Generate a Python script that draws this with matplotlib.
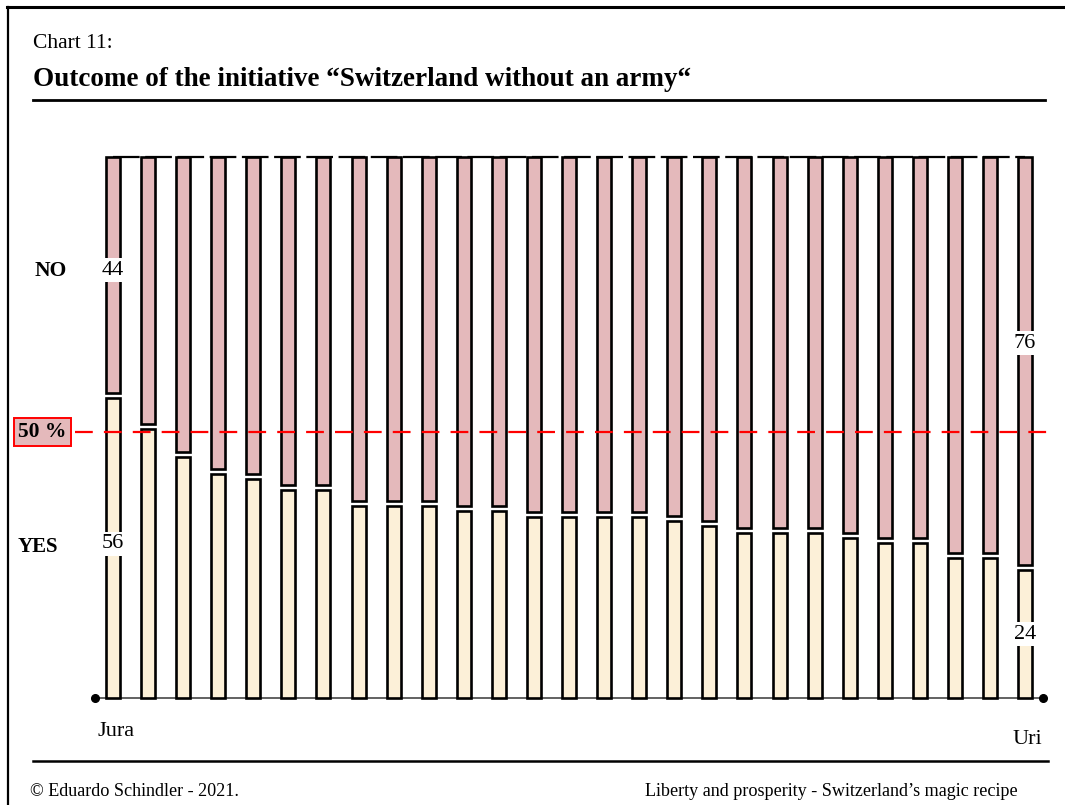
import matplotlib
matplotlib.use("Agg")
import matplotlib.pyplot as plt
import numpy as np

# ---------------- data ----------------
cantons = [str(i) for i in range(1, 28)]
first_label = "Jura"
last_label = "Uri"
yes_pct = [55.9, 50.2, 45.0, 41.9, 40.9, 38.9, 38.9, 35.9, 35.9, 35.9, 35.1, 35.1,
           33.9, 33.9, 33.9, 33.9, 33.1, 32.2, 31.0, 31.0, 31.0, 30.1, 29.2, 29.2,
           26.4, 26.4, 24.2]
no_pct = [100 - v for v in yes_pct]
threshold = 50
threshold_label = "50 %"

plt.rcParams['font.family'] = ['Liberation Serif', 'DejaVu Serif']

W, H = 1065, 805
fig = plt.figure(figsize=(W / 100, H / 100), dpi=100)

# main axes mapped so that bars land where they are in the reference
x0, pitch = 113.0, 35.08
base, scale = 698.0, 5.41
ax = fig.add_axes([0, 0, 1, 1])
ax.set_xlim((0 - x0) / pitch, (W - x0) / pitch)
ax.set_ylim((base - H) / scale, base / scale)
ax.axis('off')

n = len(yes_pct)
x = np.arange(n)
gap = 0.46
bw = 0.40
yes_col = '#FCF0D8'
no_col = '#E4B9BB'

# top dashed line at 100 %
ax.plot([x[0], x[-1]], [100, 100], color='black', lw=1.6,
        dashes=(12, 2.5), zorder=1, solid_capstyle='butt')

yes_h = np.array(yes_pct) - gap
no_b = np.array(yes_pct) + gap
no_h = np.array(no_pct) - gap
ax.bar(x, yes_h, width=bw, bottom=0, color=yes_col, edgecolor='black', lw=1.9, zorder=3)
ax.bar(x, no_h, width=bw, bottom=no_b, color=no_col, edgecolor='black', lw=1.9, zorder=3)

# baseline with dots
ax.plot([x[0] - 0.52, x[-1] + 0.5], [0, 0], color='#555555', lw=1.3, zorder=2)
ax.plot([x[0] - 0.52, x[-1] + 0.5], [0, 0], 'o', color='black', ms=5.5, zorder=4)

# 50 % line
ax.plot([(75 - x0) / pitch, (1057 - x0) / pitch], [threshold - 0.8, threshold - 0.8],
        color='#FF0000', lw=1.6, dashes=(8, 5), zorder=5)

# value labels
bb = dict(boxstyle='square,pad=0.1', fc='white', ec='none')
vfs = 16
ax.text(x[0], 79.1, f"{round(no_pct[0])}", ha='center', va='center', fontsize=vfs, bbox=bb, zorder=6)
ax.text(x[0], 28.5, f"{round(yes_pct[0])}", ha='center', va='center', fontsize=vfs, bbox=bb, zorder=6)
ax.text(x[-1], 65.6, f"{round(no_pct[-1])}", ha='center', va='center', fontsize=vfs, bbox=bb, zorder=6)
ax.text(x[-1], 11.8, f"{round(yes_pct[-1])}", ha='center', va='center', fontsize=vfs, bbox=bb, zorder=6)

# overlay axes in pixel coordinates for page decoration
ov = fig.add_axes([0, 0, 1, 1], zorder=10)
ov.set_xlim(0, W)
ov.set_ylim(H, 0)
ov.axis('off')
ov.patch.set_alpha(0)

# frame (top + left)
ov.plot([7, W], [7.5, 7.5], color='black', lw=2.2)
ov.plot([7.5, 7.5], [7, H], color='black', lw=1.6)

ov.text(33, 43, "Chart 11:", fontsize=15.5, va='center', ha='left')
ov.text(33, 79, "Outcome of the initiative \u201cSwitzerland without an army\u201c",
        fontsize=19.5, fontweight='bold', va='center', ha='left')
ov.plot([33, 1045], [100, 100], color='black', lw=2.0)

ov.text(35, 271, "NO", fontsize=15.5, fontweight='bold', va='center', ha='left')
ov.text(18, 547, "YES", fontsize=15, fontweight='bold', va='center', ha='left')
ov.text(42.5, 432, threshold_label, fontsize=15.5, fontweight='bold', va='center', ha='center',
        bbox=dict(boxstyle='square,pad=0.2', fc=no_col, ec='#FF0000', lw=1.4))

ov.text(98, 731, first_label, fontsize=16, va='center', ha='left')
ov.text(1042, 739, last_label, fontsize=16, va='center', ha='right')

ov.plot([33, 1048], [761, 761], color='black', lw=1.8)
ov.text(30, 791, "\u00a9 Eduardo Schindler - 2021.", fontsize=13.1, va='center', ha='left')
ov.text(645, 791, "Liberty and prosperity - Switzerland\u2019s magic recipe", fontsize=13.1,
        va='center', ha='left')

fig.savefig("out.png", dpi=100)
